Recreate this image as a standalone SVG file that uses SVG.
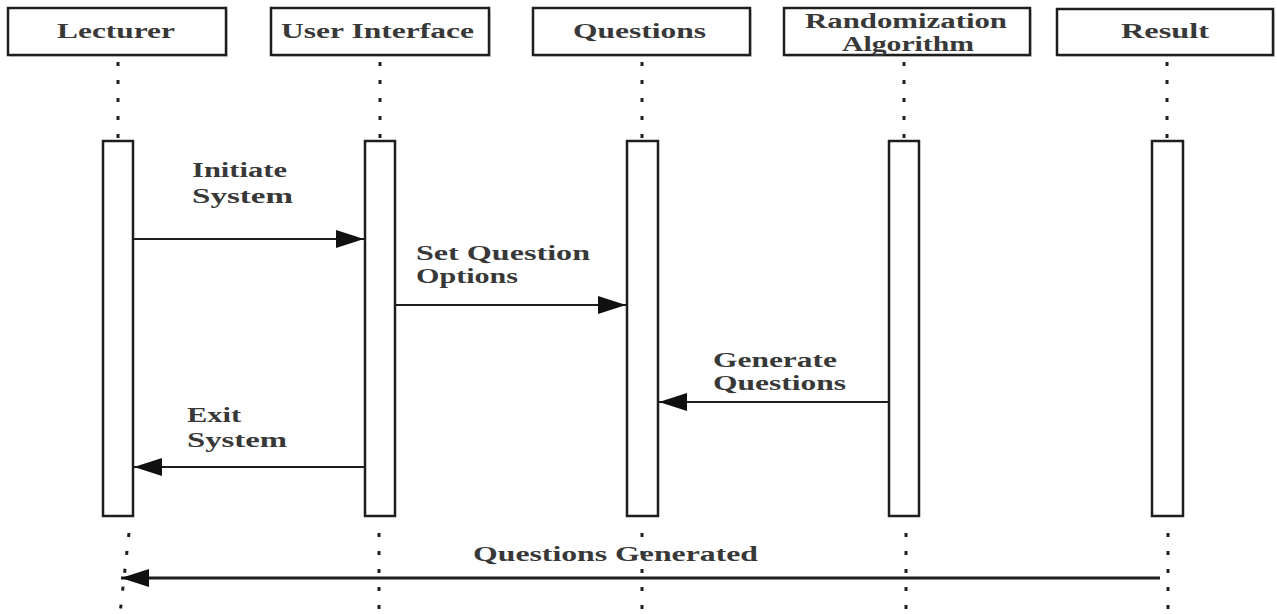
<svg xmlns="http://www.w3.org/2000/svg" width="1277" height="614" viewBox="0 0 1277 614">
<style>
.hdr{fill:#ffffff;stroke:#1e1e1e;stroke-width:2.5}
.shd{fill:#c8c8c8;stroke:none;opacity:0.6}
.act{fill:#ffffff;stroke:#1e1e1e;stroke-width:2.5}
.life{stroke:#1e1e1e;stroke-width:3;stroke-dasharray:4 14;fill:none}
.msg{stroke:#1e1e1e;stroke-width:2;fill:none;marker-end:url(#ah)}
.t{font-family:"Liberation Serif","Times New Roman",serif;font-weight:bold;font-size:20px;fill:#383838}
</style>
<defs>
<marker id="ah" viewBox="0 0 28 18" refX="28" refY="9" markerWidth="28" markerHeight="18" markerUnits="userSpaceOnUse" orient="auto">
<path d="M0,0 L28,9 L0,18 z" fill="#111111"/>
</marker>
</defs>
<rect width="1277" height="614" fill="#ffffff"/>

<g id="lifelines">
<line class="life" x1="118" y1="62" x2="118" y2="138"/>
<line class="life" x1="380" y1="62" x2="380" y2="138"/>
<line class="life" x1="642" y1="62" x2="642" y2="138"/>
<line class="life" x1="904" y1="62" x2="904" y2="138"/>
<line class="life" x1="1167" y1="62" x2="1167" y2="138"/>
<line class="life" x1="129" y1="533" x2="120" y2="614"/>
<line class="life" x1="379" y1="533" x2="379" y2="614"/>
<line class="life" x1="642" y1="533" x2="642" y2="614"/>
<line class="life" x1="906" y1="533" x2="906" y2="614"/>
<line class="life" x1="1168" y1="533" x2="1168" y2="614"/>
</g>

<g id="lecturer">
<rect class="shd" x="10" y="10" width="218" height="47"/>
<rect class="hdr" x="8" y="8" width="218" height="47"/>
<text class="t" x="57" y="38" textLength="118" lengthAdjust="spacingAndGlyphs">Lecturer</text>
<rect class="act" x="103" y="141" width="30" height="375"/>
</g>

<g id="user-interface">
<rect class="shd" x="273" y="10" width="218" height="47"/>
<rect class="hdr" x="271" y="8" width="218" height="47"/>
<text class="t" x="281" y="38" textLength="193" lengthAdjust="spacingAndGlyphs">User Interface</text>
<rect class="act" x="365" y="141" width="30" height="375"/>
</g>

<g id="questions">
<rect class="shd" x="535" y="10" width="217" height="47"/>
<rect class="hdr" x="533" y="8" width="217" height="47"/>
<text class="t" x="573" y="38" textLength="133" lengthAdjust="spacingAndGlyphs">Questions</text>
<rect class="act" x="627" y="141" width="31" height="375"/>
</g>

<g id="randomization-algorithm">
<rect class="shd" x="786" y="10" width="246" height="47"/>
<rect class="hdr" x="784" y="8" width="246" height="47"/>
<text class="t" x="805" y="28" textLength="202" lengthAdjust="spacingAndGlyphs">Randomization</text>
<text class="t" x="842" y="51" textLength="132" lengthAdjust="spacingAndGlyphs">Algorithm</text>
<rect class="act" x="889" y="141" width="30" height="375"/>
</g>

<g id="result">
<rect class="shd" x="1059" y="11" width="216" height="46"/>
<rect class="hdr" x="1057" y="9" width="216" height="46"/>
<text class="t" x="1121" y="38" textLength="88" lengthAdjust="spacingAndGlyphs">Result</text>
<rect class="act" x="1152" y="141" width="31" height="375"/>
</g>

<g id="connectors">
<line class="msg" x1="133" y1="239" x2="364" y2="239"/>
<line class="msg" x1="396" y1="305" x2="626" y2="305"/>
<line class="msg" x1="889" y1="402" x2="659" y2="402"/>
<line class="msg" x1="365" y1="467" x2="134" y2="467"/>
<line class="msg" style="stroke-width:3" x1="1160" y1="578" x2="121" y2="578"/>
</g>

<g id="labels">
<text class="t" x="192" y="177" textLength="95" lengthAdjust="spacingAndGlyphs">Initiate</text>
<text class="t" x="192" y="203" textLength="101" lengthAdjust="spacingAndGlyphs">System</text>
<text class="t" x="416" y="260" textLength="174" lengthAdjust="spacingAndGlyphs">Set Question</text>
<text class="t" x="416" y="283" textLength="102" lengthAdjust="spacingAndGlyphs">Options</text>
<text class="t" x="713" y="367" textLength="124" lengthAdjust="spacingAndGlyphs">Generate</text>
<text class="t" x="713" y="390" textLength="133" lengthAdjust="spacingAndGlyphs">Questions</text>
<text class="t" x="187" y="422" textLength="54" lengthAdjust="spacingAndGlyphs">Exit</text>
<text class="t" x="187" y="447" textLength="100" lengthAdjust="spacingAndGlyphs">System</text>
<text class="t" x="473" y="561" textLength="285" lengthAdjust="spacingAndGlyphs">Questions Generated</text>
</g>
</svg>
